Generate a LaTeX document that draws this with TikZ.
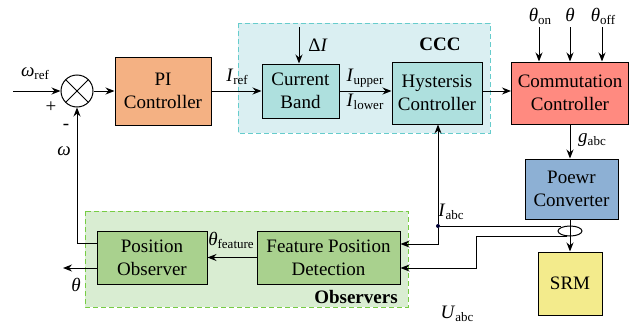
\documentclass[tikz,border=0pt]{standalone}
\usepackage{fontspec}
\setmainfont{Liberation Serif}
\usetikzlibrary{arrows.meta,shapes.geometric}
\newcommand\sbx[1]{\raisebox{-0.35ex}{\fontsize{13}{13}\selectfont #1}}
\newcommand\vlab[2]{\textit{#1}\sbx{#2}}
\definecolor{piorange}{HTML}{F4B183}
\definecolor{cccbg}{HTML}{DAEFF2}
\definecolor{cccline}{HTML}{66CCCC}
\definecolor{cccbox}{HTML}{AEE0DE}
\definecolor{commred}{HTML}{FF8A80}
\definecolor{convblue}{HTML}{8DB0D4}
\definecolor{srmyellow}{HTML}{F3EB8C}
\definecolor{obsbg}{HTML}{D9EDD2}
\definecolor{obsline}{HTML}{77CC44}
\definecolor{obsbox}{HTML}{A9D18E}
\tikzset{
  blk/.style={draw, line width=1pt, align=center, inner sep=1pt},
  arr/.style={line width=1pt, -{Stealth[length=9pt,width=7pt]}},
  ln/.style={line width=1pt},
  grp/.style={dashed, line width=1pt, dash pattern=on 5pt off 3pt},
}
\begin{document}
\begin{tikzpicture}[x=1pt,y=-1pt,font=\fontsize{19}{23}\selectfont]
\useasboundingbox (0,0) rectangle (634,324);

% group backgrounds
\draw[grp, draw=cccline, fill=cccbg] (238,23) rectangle (490,133);
\draw[grp, draw=obsline, fill=obsbg] (85,211) rectangle (408,307);
\node[font=\fontsize{19}{23}\selectfont\bfseries] (ccclab) at (440,44) {CCC};
\node[font=\fontsize{19}{23}\selectfont\bfseries] (obslab) at (356,297) {Observers};

% blocks
\node[draw, circle, line width=1pt, minimum size=32pt, inner sep=0pt,
  path picture={\draw[line width=0.8pt] (path picture bounding box.north west) -- (path picture bounding box.south east)
  (path picture bounding box.north east) -- (path picture bounding box.south west);}] (sum) at (77,91) {};
\node[blk, fill=piorange, minimum width=96pt, minimum height=68pt] (PI) at (163,91) {PI\\Controller};
\node[blk, fill=cccbox, minimum width=77pt, minimum height=54pt] (CB) at (300.5,91) {Current\\Band};
\node[blk, fill=cccbox, minimum width=90pt, minimum height=62pt] (HC) at (437,93) {Hystersis\\Controller};
\node[blk, fill=commred, minimum width=117pt, minimum height=62pt] (CC) at (570,93) {Commutation\\Controller};
\node[blk, fill=convblue, minimum width=93pt, minimum height=60pt] (PC) at (571.5,189) {Poewr\\Converter};
\node[blk, fill=srmyellow, minimum width=64pt, minimum height=63pt] (SRM) at (570,283.5) {SRM};
\node[blk, fill=obsbox, minimum width=110pt, minimum height=53pt] (PO) at (152,257.5) {Position\\Observer};
\node[blk, fill=obsbox, minimum width=143pt, minimum height=53pt] (FPD) at (328.5,257.5) {Feature Position\\Detection};
\node[draw, ellipse, line width=1pt, minimum width=24pt, minimum height=10pt, inner sep=0pt] (ct) at (570,231) {};
\node[circle, fill=black!80!blue, inner sep=0pt, minimum size=4pt] (dot) at (438,226) {};

% free ends
\coordinate (win) at (13,91);
\coordinate (dIin) at (299,27);
\coordinate (thon) at (539,27);
\coordinate (th) at (570,27);
\coordinate (thoff) at (602,27);
\coordinate (iatap) at (561,226);
\coordinate (uatap) at (567,236);
\coordinate (ubend) at (476,236);
\coordinate (fb) at (77,243);
\coordinate (thout) at (63,268);

% connectors
\draw[arr] (win) -- (sum.west);
\draw[arr] (sum.east) -- (PI.west);
\draw[arr] (PI.east) -- (CB.west);
\draw[arr] (dIin) -- (dIin |- CB.north);
\draw[arr] (CB.east) -- (HC.west |- CB.east);
\draw[arr] (HC.east |- CB.east) -- (CC.west |- CB.east);
\draw[arr] (thon) -- (thon |- CC.north);
\draw[arr] (th) -- (th |- CC.north);
\draw[arr] (thoff) -- (thoff |- CC.north);
\draw[arr] (CC.south) -- (CC.south |- PC.north);
\draw[arr] (SRM.north |- PC.south) -- (SRM.north);
\draw[ln] (iatap) -- (dot);
\draw[arr] (dot) -- (dot |- HC.south);
\draw[arr] (dot) -- (dot |- 0,244) -- (FPD.east |- 0,244);
\draw[arr] (uatap) -- (ubend) -- (ubend |- 0,268) -- (FPD.east |- 0,268);
\draw[arr] (FPD.west) -- (PO.east);
\draw[arr] (PO.west |- fb) -- (fb) -- (sum.south);
\draw[arr] (PO.west |- thout) -- (thout);

% signal labels
\node (lwref) at (35,74) {\vlab{ω}{ref}};
\node (lplus) at (51,107) {+};
\node (lminus) at (66,127) {-};
\node (lw) at (64,151) {\textit{ω}};
\node (liref) at (237,77) {\vlab{I}{ref}};
\node (ldI) at (318,45) {Δ\textit{I}};
\node (lup) at (365,78) {\vlab{I}{upper}};
\node (llow) at (365,102) {\vlab{I}{lower}};
\node (lthon) at (540,16) {\vlab{θ}{on}};
\node (lth) at (570,15) {\textit{θ}};
\node (lthoff) at (603,16) {\vlab{θ}{off}};
\node (lgabc) at (592,140) {\vlab{g}{abc}};
\node (liabc) at (451,212) {\vlab{I}{abc}};
\node (luabc) at (457,314) {\vlab{U}{abc}};
\node (lthf) at (231,240) {\vlab{θ}{feature}};
\node (lthout) at (76,285) {\textit{θ}};
\end{tikzpicture}
\end{document}
